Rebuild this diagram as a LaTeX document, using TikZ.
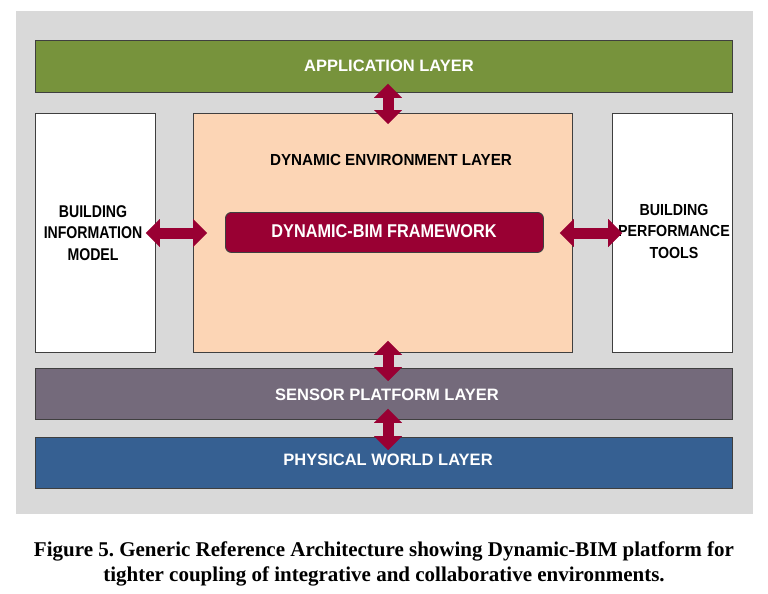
\documentclass[tikz,border=0pt]{standalone}
\usepackage{fontspec}
\setmainfont{Liberation Sans}
\newfontfamily\dynfont{Liberation Sans}[FakeStretch=0.95]
\newfontfamily\bimfont{Liberation Sans}[FakeStretch=0.83]
\newfontfamily\perffont{Liberation Sans}[FakeStretch=0.89]
\newfontfamily\fwfont{Liberation Sans}[FakeStretch=0.88]
\newfontfamily\capfont{Liberation Serif}
\usetikzlibrary{arrows.meta}
\definecolor{bggray}{HTML}{D9D9D9}
\definecolor{appgreen}{HTML}{77933C}
\definecolor{peach}{HTML}{FCD5B5}
\definecolor{maroon}{HTML}{990033}
\definecolor{sensorc}{HTML}{746A7B}
\definecolor{physc}{HTML}{366092}
\definecolor{edgec}{HTML}{3F3F3F}
\tikzset{
  layerbox/.style={draw=edgec, line width=0.9pt, inner sep=0pt},
  whitelbl/.style={text=white, font=\fontsize{16.5}{20}\selectfont\bfseries},
  blacklbl/.style={text=black, align=center},
  blk/.style={draw=maroon, line width=11pt,
    {Triangle[length=14pt,width=28pt,line width=0.01pt]}-{Triangle[length=14pt,width=28pt,line width=0.01pt]}},
}
\begin{document}
\frenchspacing
\begin{tikzpicture}[x=1pt,y=-1pt]
\useasboundingbox (0,0) rectangle (768,594);
\fill[bggray] (16,11) rectangle (753,514);
% boxes
\node[layerbox, fill=appgreen, minimum width=697pt, minimum height=52pt, anchor=north west] (app) at (35,40) {};
\node[whitelbl] (applbl) at (389,66) {APPLICATION LAYER};
\node[layerbox, fill=white, minimum width=120pt, minimum height=239pt, anchor=north west] (bim) at (35,113) {};
\node[blacklbl, font=\bimfont\fontsize{17}{21.5}\selectfont\bfseries] (bimlbl) at (93,233) {BUILDING\\INFORMATION\\MODEL};
\node[layerbox, fill=peach, minimum width=379pt, minimum height=239pt, anchor=north west] (dyn) at (193,113) {};
\node[blacklbl, font=\dynfont\fontsize{16}{20}\selectfont\bfseries] (dynlbl) at (391,160) {DYNAMIC ENVIRONMENT LAYER};
\node[layerbox, fill=white, minimum width=120pt, minimum height=239pt, anchor=north west] (perf) at (612,113) {};
\node[blacklbl, font=\perffont\fontsize{16}{21.5}\selectfont\bfseries] (perflbl) at (674,231) {BUILDING\\PERFORMANCE\\TOOLS};
\node[draw=edgec, line width=0.9pt, fill=maroon, rounded corners=6pt, minimum width=318pt, minimum height=40pt, anchor=north west] (fw) at (225,212) {};
\node[text=white, font=\fwfont\fontsize{18.5}{22}\selectfont\bfseries] (fwlbl) at (384,231) {DYNAMIC-BIM FRAMEWORK};
\node[layerbox, fill=sensorc, minimum width=697pt, minimum height=51pt, anchor=north west] (sensor) at (35,368) {};
\node[whitelbl] (senslbl) at (387,395) {SENSOR PLATFORM LAYER};
\node[layerbox, fill=physc, minimum width=697pt, minimum height=51pt, anchor=north west] (phys) at (35,437) {};
\node[whitelbl] (physlbl) at (388,460) {PHYSICAL WORLD LAYER};
% arrows
\coordinate (ax) at (388,0);
\coordinate (ay) at (0,233);
\draw[blk, shorten <=-9pt, shorten >=-11pt] (app.south -| ax) -- (dyn.north -| ax);
\draw[blk, shorten <=-10pt, shorten >=-14pt] (bim.east |- ay) -- (dyn.west |- ay);
\draw[blk, shorten <=-13pt, shorten >=-10pt] (dyn.east |- ay) -- (perf.west |- ay);
\draw[blk, shorten <=-12pt, shorten >=-13pt] (dyn.south -| ax) -- (sensor.north -| ax);
\draw[blk, shorten <=-11pt, shorten >=-13pt] (sensor.south -| ax) -- (phys.north -| ax);
% caption
\node[font=\capfont\fontsize{21}{25}\selectfont\bfseries, align=center] (cap) at (384,564)
  {Figure 5. Generic Reference Architecture showing Dynamic-BIM platform for\\tighter coupling of integrative and collaborative environments.};
\end{tikzpicture}
\end{document}
